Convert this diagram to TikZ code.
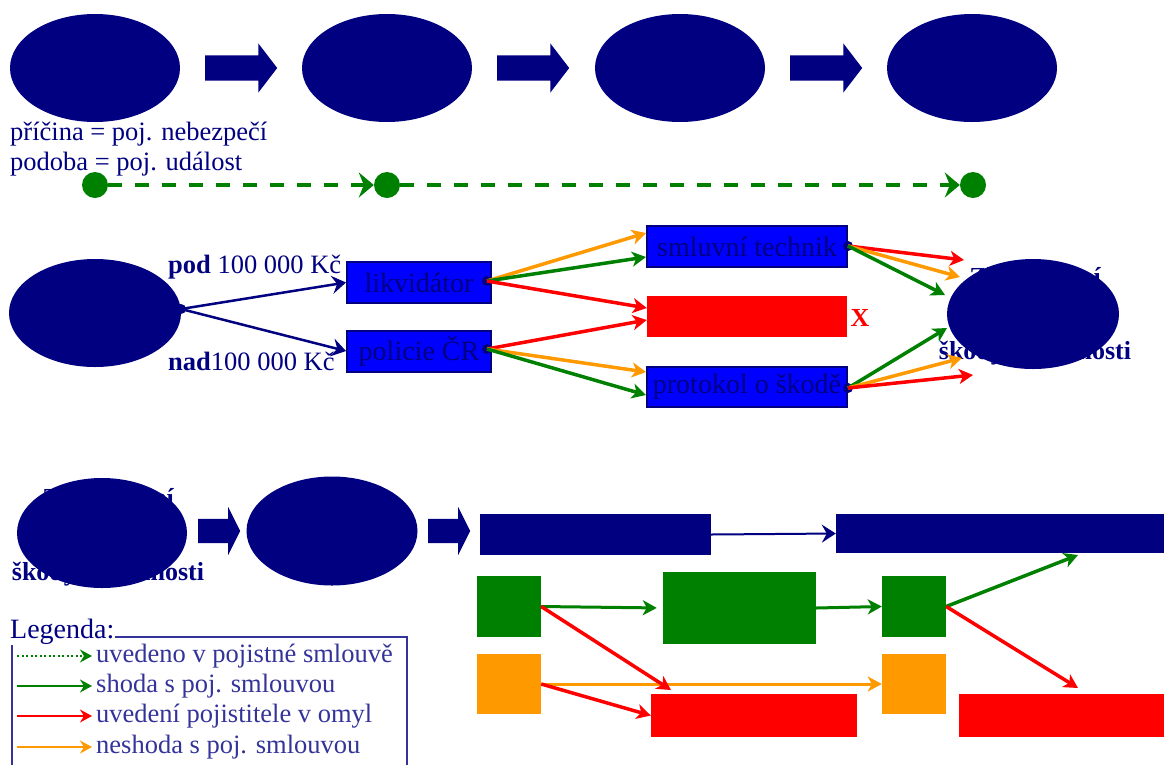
\documentclass[tikz,border=0pt]{standalone}
\usepackage{fontspec}
\setmainfont{Liberation Serif}
\usetikzlibrary{arrows.meta,shapes.geometric,shapes.arrows}

\definecolor{navy}{RGB}{0,0,128}
\definecolor{boxblue}{RGB}{0,0,255}
\definecolor{okgreen}{RGB}{0,128,0}
\definecolor{errred}{RGB}{255,0,0}
\definecolor{warnorange}{RGB}{255,153,0}
\definecolor{legendblue}{RGB}{51,51,153}

\begin{document}
\begin{tikzpicture}[x=1pt,y=-1pt,
    phase/.style={ellipse,fill=navy,minimum width=170pt,minimum height=108pt,inner sep=0pt},
    bigarrow/.style={single arrow,fill=navy,inner xsep=0pt,inner ysep=12.5pt,
      single arrow head extend=12pt,single arrow tip angle=105,minimum height=72pt,anchor=tail},
    smallarrow/.style={bigarrow,inner ysep=12pt,single arrow tip angle=127,minimum height=42pt},
    plain/.style={text=navy,font=\fontsize{26.5pt}{30pt}\selectfont,inner sep=0pt},
    hidden/.style={text=navy,font=\fontsize{26pt}{37pt}\selectfont\bfseries,align=center,inner sep=0pt},
    task/.style={fill=boxblue,draw=navy,line width=2pt,text=navy,minimum height=41pt,
      font=\fontsize{28pt}{30pt}\selectfont,inner sep=0pt},
    block/.style={inner sep=0pt},
    port/.style={circle,fill=navy,minimum size=10pt,inner sep=0pt},
    milestone/.style={circle,fill=okgreen,minimum size=26pt,inner sep=0pt},
    contract/.style={okgreen,line width=4pt,dash pattern=on 14pt off 13pt,
      -{Stealth[length=15pt,width=25pt,inset=5pt]}},
    route/.style={navy,line width=2.5pt,-{Stealth[length=14pt,width=18pt,inset=5pt]}},
    flow/.style={line width=3.5pt,-{Stealth[length=14pt,width=15pt,inset=4pt]}},
    legtext/.style={text=legendblue,font=\fontsize{26.5pt}{30pt}\selectfont,anchor=west,inner xsep=4pt,inner ysep=0pt},
    legarrow/.style={line width=2pt,-{Stealth[length=12pt,width=13pt,inset=4pt]}}]

  \useasboundingbox (0,0) rectangle (1164,764);

  % first row
  \node[phase] (e1) at (95,68) {};
  \node[phase] (e2) at (387,68) {};
  \node[phase] (e3) at (680,68) {};
  \node[phase] (e4) at (972,68) {};
  \foreach \x in {205,497,790}
    \node[bigarrow] (ba\x) at (\x,68) {};

  \node[plain,anchor=base west] (cause) at (10,140) {příčina = poj. nebezpečí};
  \node[plain,anchor=base west] (form) at (10,170) {podoba = poj. událost};

  \node[milestone] (m1) at (95,185) {};
  \node[milestone] (m2) at (387,185) {};
  \node[milestone] (m3) at (973,185) {};
  \path[contract] (m1) edge (m2);
  \path[contract] (m2) edge (m3);

  % second row
  \node[phase,minimum width=172pt] (claim) at (95,313) {};
  \node[port] (claimp) at (181,309) {};
  \node[task,minimum width=144pt] (likv) at (419,282.5) {likvidátor};
  \node[task,minimum width=144pt] (police) at (419,351) {policie ČR};
  \node[plain,anchor=base west] (under) at (168,273) {\textbf{pod} 100 000 Kč};
  \node[plain,anchor=base west] (over) at (168,370) {\textbf{nad}100 000 Kč};
  \path[route] (claimp.center) edge (likv.west);
  \path[route] (claimp.center) edge (police.west);

  \node[task,minimum width=200pt] (tech) at (747,246.5) {smluvní technik};
  \node[block,fill=errred,minimum width=200pt,minimum height=41pt] (refused) at (747,316.5) {};
  \node[text=errred,font=\fontsize{26pt}{30pt}\selectfont\bfseries,inner sep=0pt] (cross) at (860,318) {X};
  \node[task,minimum width=200pt,minimum height=40pt] (report) at (747,387) {protokol o škodě};
  \node[port] (likvp) at (487,281) {};
  \node[port] (policep) at (487,349) {};
  \node[port] (techp) at (848,246) {};
  \node[port] (reportp) at (848,388) {};

  \path[flow,warnorange] (likvp.center) edge ([yshift=13.5pt]tech.west);
  \path[flow,okgreen] (likvp.center) edge ([yshift=-10.5pt]tech.west);
  \path[flow,errred] (likvp.center) edge ([yshift=8.5pt]refused.west);
  \path[flow,errred] (policep.center) edge ([yshift=-3.5pt]refused.west);
  \path[flow,warnorange] (policep.center) edge ([yshift=15pt]report.west);
  \path[flow,okgreen] (policep.center) edge ([yshift=-8pt]report.west);

  \node[hidden] (checktext) at (1035,316) {Zhodnocení\\rozsahu\\škody a okolnosti};
  \node[phase,minimum width=172pt,minimum height=110pt] (check) at (1033,314) {};
  \coordinate (t1) at (964,260);
  \coordinate (t2) at (960,277);
  \coordinate (t3) at (945,295);
  \coordinate (t4) at (947,328);
  \coordinate (t5) at (962,358);
  \coordinate (t6) at (973,375);
  \path[flow,errred] (techp.center) edge (t1);
  \path[flow,warnorange] (techp.center) edge (t2);
  \path[flow,okgreen] (techp.center) edge (t3);
  \path[flow,okgreen] (reportp.center) edge (t4);
  \path[flow,warnorange] (reportp.center) edge (t5);
  \path[flow,errred] (reportp.center) edge (t6);

  % third row
  \node[hidden] (againtext) at (108,537) {Zhodnocení\\rozsahu\\škody a okolnosti};
  \node[phase,minimum height=110pt] (again) at (102,533) {};
  \node[phase,minimum width=171pt,minimum height=109pt] (decide) at (332,531) {};
  \node[smallarrow] (sa1) at (198,531) {};
  \node[smallarrow] (sa2) at (428,531) {};

  \node[block,fill=navy,minimum width=231pt,minimum height=41pt] (n1) at (595.5,534.5) {};
  \node[block,fill=navy,minimum width=339pt,minimum height=39pt] (n2) at (1005.5,533.5) {};
  \path[route,line width=2pt] (n1.east) edge (n2.west);

  \node[block,fill=okgreen,minimum width=64pt,minimum height=61pt] (g1) at (509,606.5) {};
  \node[block,fill=okgreen,minimum width=153pt,minimum height=72pt] (g2) at (739.5,608) {};
  \node[block,fill=okgreen,minimum width=64pt,minimum height=61pt] (g3) at (914,606.5) {};
  \node[block,fill=warnorange,minimum width=64pt,minimum height=60pt] (o1) at (509,684) {};
  \node[block,fill=warnorange,minimum width=64pt,minimum height=60pt] (o2) at (914,684) {};
  \node[block,fill=errred,minimum width=206pt,minimum height=43pt] (r1) at (754,715.5) {};
  \node[block,fill=errred,minimum width=216pt,minimum height=43pt] (r2) at (1067,715.5) {};
  \coordinate (gup) at (1078,555);
  \coordinate (rdn) at (1078,688);
  \coordinate (rin) at (671,690);

  \path[flow,okgreen,line width=3pt] (g1.east) edge[shorten >=6pt] (g2.west);
  \path[flow,okgreen,line width=3pt] (g2.east) edge (g3.west);
  \path[flow,warnorange,line width=3pt] (o1.east) edge (o2.west);
  \path[flow,errred] (g1.east) edge (rin);
  \path[flow,errred] (o1.east) edge (r1.west);
  \path[flow,okgreen] (g3.east) edge (gup);
  \path[flow,errred] (g3.east) edge (rdn);

  % legend
  \draw[legendblue,line width=1.5pt] (12,637) rectangle (407,800);
  \node[text=navy,font=\fontsize{28pt}{30pt}\selectfont,fill=white,inner sep=1pt,anchor=base west] (legend) at (9,638) {Legenda:};
  \node[legtext] (k1) at (92,656) {uvedeno v pojistné smlouvě};
  \node[legtext] (k2) at (92,686) {shoda s poj. smlouvou};
  \node[legtext] (k3) at (92,716) {uvedení pojistitele v omyl};
  \node[legtext] (k4) at (92,747) {neshoda s poj. smlouvou};
  \coordinate (k1s) at (17,656);
  \coordinate (k2s) at (17,686);
  \coordinate (k3s) at (17,716);
  \coordinate (k4s) at (17,747);
  \draw[legarrow,okgreen,dash pattern=on 2pt off 2.5pt] (k1s) -- (k1.west);
  \draw[legarrow,okgreen] (k2s) -- (k2.west);
  \draw[legarrow,errred] (k3s) -- (k3.west);
  \draw[legarrow,warnorange] (k4s) -- (k4.west);
\end{tikzpicture}
\end{document}
